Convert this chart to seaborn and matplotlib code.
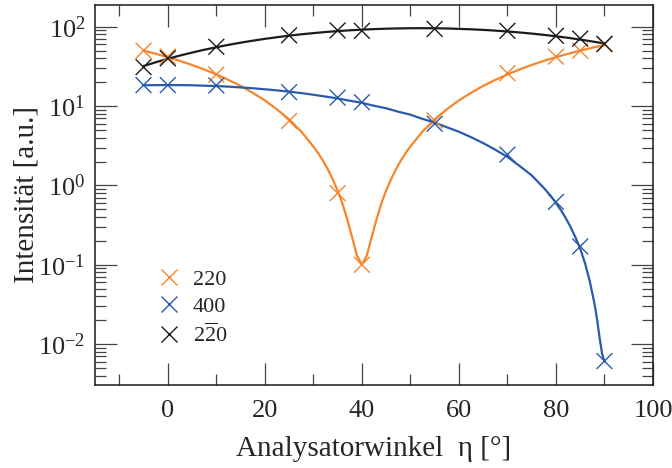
import numpy as np
import pandas as pd
import matplotlib
matplotlib.use("Agg")
import matplotlib.pyplot as plt
from matplotlib.lines import Line2D
from matplotlib.ticker import LogLocator, FixedLocator, NullFormatter
import seaborn as sns

# Measured intensities versus analyser angle
eta = [-5, 0, 10, 25, 35, 40, 55, 70, 80, 85, 90]
i_220 = [50, 42, 25, 6.5, 0.80, 0.10, 6.6, 26, 42, 50, 60]
i_400 = [18.4, 18.4, 18.2, 15.0, 12.8, 11.2, 6.0, 2.45, 0.62, 0.17, 0.0061]
i_2m20 = [31, 40, 56, 78, 90, 89, 94, 89, 77, 71, 61]

# Fit curves
fit_eta_220 = [-5, -2.5, 0, 2.5, 5, 7.5, 10, 12.5, 15, 17.5, 20, 22.5, 25, 27.5,
               30, 31, 32, 33, 34, 35, 36, 37, 38, 39, 40, 41, 42, 43, 44, 45,
               46, 47, 48, 49, 50, 52.5, 55, 57.5, 60, 62.5, 65, 67.5, 70, 72.5,
               75, 77.5, 80, 82.5, 85, 87.5, 90]
fit_220 = [50.1, 45.7, 41.4, 37.2, 33.0, 29.0, 25.1, 21.4, 18.0, 14.7, 11.8, 9.1,
           6.8, 4.78, 3.1, 2.55, 2.04, 1.59, 1.19, 0.86, 0.59, 0.37, 0.22, 0.13,
           0.10, 0.13, 0.22, 0.37, 0.59, 0.86, 1.19, 1.59, 2.04, 2.55, 3.1, 4.78,
           6.8, 9.1, 11.8, 14.7, 18.0, 21.4, 25.1, 29.0, 33.0, 37.2, 41.4, 45.7,
           50.1, 54.5, 58.8]

fit_eta_400 = [-5, -2.5, 0, 2.5, 5, 7.5, 10, 12.5, 15, 17.5, 20, 22.5, 25, 27.5,
               30, 32.5, 35, 37.5, 40, 42.5, 45, 47.5, 50, 52.5, 55, 57.5, 60,
               62.5, 65, 67.5, 70, 72.5, 75, 77.5, 79, 80, 81, 82, 83, 84, 85,
               86, 87, 88, 88.5, 89, 89.5, 90]
fit_400 = [18.3, 18.4, 18.4, 18.4, 18.3, 18.1, 17.9, 17.6, 17.2, 16.8, 16.3, 15.8,
           15.2, 14.6, 13.9, 13.2, 12.5, 11.7, 11.0, 10.1, 9.4, 8.5, 7.8, 6.9,
           6.2, 5.42, 4.75, 4.06, 3.42, 2.82, 2.29, 1.76, 1.34, 0.93, 0.73, 0.60,
           0.49, 0.39, 0.30, 0.223, 0.16, 0.104, 0.061, 0.031, 0.020, 0.012,
           0.0076, 0.006]

fit_eta_2m20 = [-5, -2.5, 0, 2.5, 5, 7.5, 10, 12.5, 15, 17.5, 20, 22.5, 25, 27.5,
                30, 32.5, 35, 37.5, 40, 42.5, 45, 47.5, 50, 52.5, 55, 57.5, 60,
                62.5, 65, 67.5, 70, 72.5, 75, 77.5, 80, 82.5, 85, 87.5, 90]
fit_2m20 = [32.0, 35.7, 39.5, 43.4, 47.3, 51.3, 55.2, 59.2, 63.0, 66.8, 70.4,
            73.9, 77.3, 80.4, 83.2, 85.9, 88.2, 90.3, 92.1, 93.5, 94.6, 95.4,
            95.9, 96.0, 95.8, 95.2, 94.2, 93.0, 91.4, 89.5, 87.3, 84.8, 82.1,
            79.1, 75.9, 72.6, 69.0, 65.3, 61.5]

labels = ["220", "400", "2-20"]
legend_text = ["220", "400", r"$\mathrm{2\overline{2}0}$"]
colors = {"220": "#F7852C", "400": "#2A5BAB", "2-20": "#1C1C1C"}

points = pd.concat([
    pd.DataFrame({"eta": eta, "I": i_220, "refl": "220"}),
    pd.DataFrame({"eta": eta, "I": i_400, "refl": "400"}),
    pd.DataFrame({"eta": eta, "I": i_2m20, "refl": "2-20"}),
])
fits = pd.concat([
    pd.DataFrame({"eta": fit_eta_220, "I": fit_220, "refl": "220"}),
    pd.DataFrame({"eta": fit_eta_400, "I": fit_400, "refl": "400"}),
    pd.DataFrame({"eta": fit_eta_2m20, "I": fit_2m20, "refl": "2-20"}),
])

sns.set_theme(style="ticks")
plt.rcParams["font.family"] = ["Liberation Serif", "DejaVu Serif"]
plt.rcParams["mathtext.fontset"] = "custom"
plt.rcParams["mathtext.rm"] = "Liberation Serif"
plt.rcParams["mathtext.it"] = "Liberation Serif:italic"
plt.rcParams["mathtext.bf"] = "Liberation Serif:bold"

fig = plt.figure(figsize=(6.72, 4.68), dpi=100)
ax = fig.add_axes([0.1414, 0.1774, 0.8303, 0.8126])

sns.lineplot(data=fits, x="eta", y="I", hue="refl", hue_order=labels,
             palette=colors, linewidth=1.6, legend=False, ax=ax,
             sort=False, estimator=None)
sns.scatterplot(data=points, x="eta", y="I", hue="refl", hue_order=labels,
                palette=colors, marker="x", s=130, linewidth=1.0,
                legend=False, ax=ax, zorder=3)

ax.set_yscale("log")
ax.set_xlim(-15, 100)
ax.set_ylim(3.05e-3, 190)

ax.xaxis.set_major_locator(FixedLocator([0, 20, 40, 60, 80, 100]))
ax.xaxis.set_minor_locator(FixedLocator([-10, 10, 30, 50, 70, 90]))
ax.yaxis.set_major_locator(LogLocator(base=10, numticks=10))
ax.yaxis.set_minor_locator(LogLocator(base=10, subs=np.arange(2, 10), numticks=20))
ax.yaxis.set_minor_formatter(NullFormatter())

ax.tick_params(which="both", direction="in", top=True, right=True,
               color="#444444", width=0.9)
ax.tick_params(which="major", length=15.5, labelsize=19)
ax.tick_params(which="minor", length=8)
ax.tick_params(axis="x", which="major", pad=11)
ax.tick_params(axis="y", which="major", pad=7)
for sp in ax.spines.values():
    sp.set_linewidth(1.1)
    sp.set_color("#1a1a1a")

ax.set_xlabel("Analysatorwinkel  η [°]", fontsize=21, labelpad=10)
ax.set_ylabel("Intensität [a.u.]", fontsize=21, labelpad=-1)

handles = [Line2D([], [], linestyle="none", marker="x", markersize=12,
                  markeredgewidth=1.0, color=colors[k]) for k in labels]
ax.legend(handles, legend_text, loc="upper left",
          bbox_to_anchor=(0.112, 0.305), frameon=False, fontsize=16,
          handlelength=1.0, handletextpad=0.6, labelspacing=0.3,
          borderpad=0, borderaxespad=0)

fig.savefig("out.png", dpi=100)
